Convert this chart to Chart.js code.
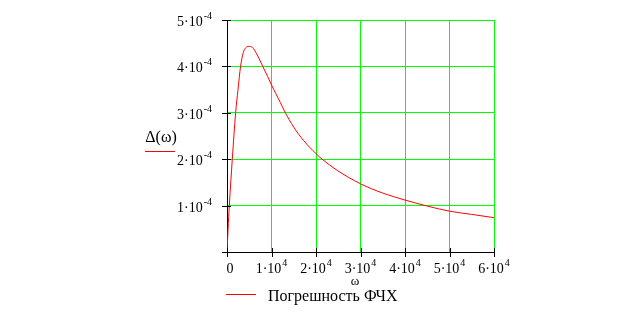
<!DOCTYPE html>
<html>
<head>
<meta charset="utf-8">
<script src="https://cdn.jsdelivr.net/npm/chart.js@4"></script>
<style>
  html, body { margin: 0; padding: 0; background: #fff; }
  canvas { display: block; }
</style>
</head>
<body>
<canvas id="plot" width="620" height="312"></canvas>
<script>
// values (omega in rad/s, delta in absolute units)
const omega = [0, 225, 520, 1190, 1940, 2450, 3050, 3670, 4190, 4950, 5690, 6670, 7790, 9140,
               10000, 10940, 12000, 12900, 15000, 17240, 20000, 21380, 24750, 30000, 35000, 40000,
               45000, 50000, 55000, 60000];
const delta = [0, 0.47e-4, 1.0e-4, 2.0e-4, 3.0e-4, 3.48e-4, 4.0e-4, 4.30e-4, 4.40e-4, 4.43e-4, 4.41e-4,
               4.27e-4, 4.05e-4, 3.78e-4, 3.60e-4, 3.42e-4, 3.22e-4, 3.04e-4, 2.69e-4, 2.40e-4,
               2.12e-4, 2.0e-4, 1.76e-4, 1.47e-4, 1.27e-4, 1.12e-4, 0.99e-4, 0.88e-4, 0.81e-4, 0.74e-4];

const xTicks = [0, 1e4, 2e4, 3e4, 4e4, 5e4, 6e4];
const xTickText = [['0', ''], ['1·10', '4'], ['2·10', '4'], ['3·10', '4'], ['4·10', '4'], ['5·10', '4'], ['6·10', '4']];
const yTicks = [1e-4, 2e-4, 3e-4, 4e-4, 5e-4];
const yTickText = [['1·10', '-4'], ['2·10', '-4'], ['3·10', '-4'], ['4·10', '-4'], ['5·10', '-4']];

const yTitle = 'Δ(ω)';
const xTitle = 'ω';
const legendText = 'Погрешность ФЧХ';

const serif = '"Liberation Serif", "DejaVu Serif", serif';

function sciWidth(ctx, base, sup) {
    ctx.font = '14px ' + serif;
    let w = ctx.measureText(base).width;
    ctx.font = '10px ' + serif;
    if (sup) w += ctx.measureText(sup).width + 1;
    return w;
}

function drawSci(ctx, base, sup, x, baseline) {
    ctx.textAlign = 'left';
    ctx.textBaseline = 'alphabetic';
    ctx.font = '14px ' + serif;
    ctx.fillText(base, x, baseline);
    const w = ctx.measureText(base).width;
    if (sup) {
        ctx.font = '10px ' + serif;
        ctx.fillText(sup, x + w + 1, baseline - 7);
    }
}

const mathcadLabels = {
    id: 'mathcadLabels',
    afterDraw(chart) {
        const ctx = chart.ctx;
        const xs = chart.scales.x;
        const ys = chart.scales.y;
        const area = chart.chartArea;
        ctx.save();
        ctx.fillStyle = '#000';

        // tick marks crossing the axes
        xTicks.forEach((v) => {
            const px = Math.round(xs.getPixelForValue(v));
            ctx.fillRect(px, area.bottom - 4, 1, 9);
        });
        yTicks.concat([0]).forEach((v) => {
            const py = Math.round(ys.getPixelForValue(v));
            ctx.fillRect(area.left - 5, py, 9, 1);
        });

        // x tick labels
        xTicks.forEach((v, i) => {
            const [b, s] = xTickText[i];
            const w = sciWidth(ctx, b, s);
            const px = xs.getPixelForValue(v);
            drawSci(ctx, b, s, px - w / 2 + (i === 0 ? 3 : 0), area.bottom + 21);
        });

        // y tick labels, right aligned
        yTicks.forEach((v, i) => {
            const [b, s] = yTickText[i];
            const w = sciWidth(ctx, b, s);
            const py = ys.getPixelForValue(v);
            drawSci(ctx, b, s, 212 - w, py + 6);
        });

        // axis titles
        ctx.font = '16px ' + serif;
        ctx.textAlign = 'center';
        ctx.textBaseline = 'middle';
        ctx.fillText(yTitle, 161, 138);
        ctx.font = '13px ' + serif;
        ctx.fillText(xTitle, 355, 282);

        // trace markers (red line under the y expression and in the legend)
        ctx.fillStyle = '#ff0000';
        ctx.fillRect(145, 151, 30, 1);
        ctx.fillRect(226, 294, 30, 1);

        ctx.fillStyle = '#000';
        ctx.font = '16px ' + serif;
        ctx.textAlign = 'left';
        ctx.textBaseline = 'alphabetic';
        ctx.fillText(legendText, 268, 301);
        ctx.restore();
    }
};

new Chart(document.getElementById('plot'), {
    type: 'scatter',
    data: {
        datasets: [{
            label: legendText,
            data: omega.map((w, i) => ({ x: w, y: delta[i] })),
            showLine: true,
            borderColor: '#ff0000',
            borderWidth: 1,
            pointRadius: 0,
            cubicInterpolationMode: 'monotone'
        }]
    },
    options: {
        responsive: false,
        animation: false,
        layout: { padding: { left: 227, top: 20, right: 126, bottom: 60 } },
        plugins: { legend: { display: false }, tooltip: { enabled: false } },
        scales: {
            x: {
                type: 'linear',
                min: 0,
                max: 60000,
                afterBuildTicks: (axis) => { axis.ticks = xTicks.map((v) => ({ value: v })); },
                ticks: { display: false },
                grid: { color: '#00ff00', lineWidth: 1, drawTicks: false },
                border: { color: '#000', width: 1 }
            },
            y: {
                min: 0,
                max: 5e-4,
                afterBuildTicks: (axis) => { axis.ticks = [0].concat(yTicks).map((v) => ({ value: v })); },
                ticks: { display: false },
                grid: { color: '#00ff00', lineWidth: 1, drawTicks: false },
                border: { color: '#000', width: 1 }
            }
        }
    },
    plugins: [mathcadLabels]
});
</script>
</body>
</html>
